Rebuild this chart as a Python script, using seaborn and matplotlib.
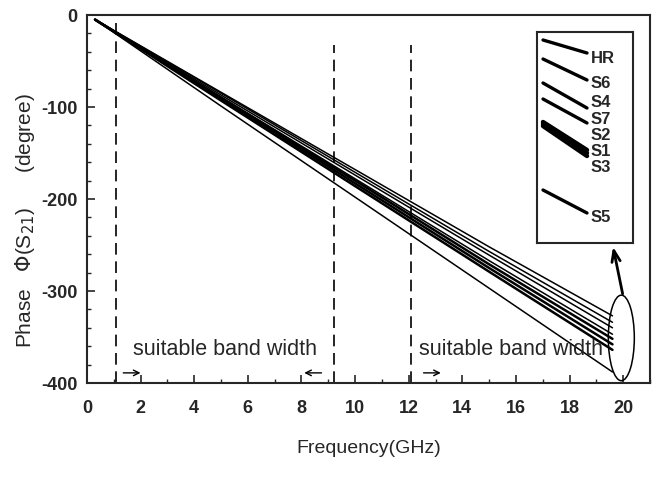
import numpy as np
import pandas as pd
import matplotlib.pyplot as plt
import seaborn as sns
from matplotlib.patches import Ellipse
from matplotlib.ticker import MultipleLocator

sns.set_style("ticks")
plt.rcParams['font.family'] = ['Liberation Sans', 'DejaVu Sans']
plt.rcParams['axes.unicode_minus'] = False

# phase curves (degree) read at a few frequencies (GHz)
freq = [0.3, 5, 10, 15, 19.6]
names = ['HR', 'S6', 'S4', 'S7', 'S2', 'S1', 'S3', 'S5']
phase_HR = [-5, -84, -168, -252, -327]
phase_S6 = [-5, -85, -171, -257, -334]
phase_S4 = [-5, -87, -174, -261, -340]
phase_S7 = [-5, -89, -178, -267, -347]
phase_S2 = [-5, -90, -180, -271, -352]
phase_S1 = [-5, -91, -183, -275, -358]
phase_S3 = [-5, -93, -186, -279, -364]
phase_S5 = [-5, -99, -198, -297, -388]
phases = [phase_HR, phase_S6, phase_S4, phase_S7, phase_S2, phase_S1, phase_S3, phase_S5]
widths = [1.1, 1.1, 1.1, 1.1, 1.8, 1.8, 1.8, 1.1]

# band limits (GHz)
band_edges = [1.1, 9.2, 12.1]
band_tops = [-5, -33, -33]

# inset (zoomed ends), inset units
inset_x = [6, 50]
inset_start = [-8, -27, -51, -67, -90, -92, -94, -158]
inset_end = [-21, -48, -76, -91, -118, -121, -124, -181]
inset_label_y = [-26, -51, -70, -87, -103, -119, -135, -186]
inset_widths = [2.4, 2.4, 2.4, 2.4, 3.2, 3.2, 3.2, 2.4]

df = pd.concat([pd.DataFrame({'freq': freq, 'phase': p, 'name': n})
                for n, p in zip(names, phases)])

fig = plt.figure(figsize=(6.57, 4.87), dpi=100)
ax = fig.add_axes([87/657, 1-383/487, 563/657, 368/487])

for n, w in zip(names, widths):
    sns.lineplot(data=df[df['name'] == n], x='freq', y='phase', color='black',
                 lw=w, ax=ax, legend=False)

ax.vlines(band_edges, -400, band_tops, colors='black', linestyles=(0, (7, 4)), lw=1.2)

ax.set_xlim(0, 21)
ax.set_ylim(-400, 0)
ax.xaxis.set_major_locator(MultipleLocator(2))
ax.xaxis.set_minor_locator(MultipleLocator(1))
ax.yaxis.set_major_locator(MultipleLocator(100))
ax.yaxis.set_minor_locator(MultipleLocator(20))
ax.tick_params(which='both', direction='in', top=False, right=False)
ax.tick_params(which='major', length=6, width=1.2, labelsize=13)
ax.tick_params(which='minor', length=3, width=1)
ax.tick_params(axis='x', which='major', pad=12)
ax.tick_params(axis='y', which='major', pad=7)
for lab in ax.get_xticklabels() + ax.get_yticklabels():
    lab.set_fontweight('bold')
for s in ax.spines.values():
    s.set_linewidth(1.5)

ax.set_xlabel('Frequency(GHz)', fontsize=14, labelpad=17)
ax.set_ylabel(r'Phase   $\Phi$(S$_{21}$)      (degree)', fontsize=15)
ax.yaxis.set_label_coords(-0.088, 0.44)

ax.text(1.72, -364, 'suitable band width', fontsize=15.5, va='center')
ax.text(12.4, -364, 'suitable band width', fontsize=15.5, va='center')
ax.annotate('', xy=(2.1, -389), xytext=(1.25, -389),
            arrowprops=dict(arrowstyle='->', lw=1, color='black'))
ax.annotate('', xy=(8.0, -389), xytext=(8.85, -389),
            arrowprops=dict(arrowstyle='->', lw=1, color='black'))
ax.annotate('', xy=(13.3, -389), xytext=(12.45, -389),
            arrowprops=dict(arrowstyle='->', lw=1, color='black'))

ax.add_patch(Ellipse((19.93, -351), 0.97, 93, fill=False, lw=1.1, color='black'))
ax.annotate('', xy=(19.6, -249), xytext=(20.0, -306),
            arrowprops=dict(arrowstyle='->,head_length=0.8,head_width=0.3',
                            lw=2, color='black'))

# inset with the curve ends
ins = fig.add_axes([537/657, 1-243/487, 96/657, 211/487])
for n, a, b, ly, w in zip(names, inset_start, inset_end, inset_label_y, inset_widths):
    sns.lineplot(x=inset_x, y=[a, b], color='black', lw=w, ax=ins)
    ins.text(54, ly, n, fontsize=12, fontweight='bold', va='center')
ins.set_xlim(0, 96)
ins.set_ylim(-211, 0)
ins.set_xticks([])
ins.set_yticks([])
ins.set_xlabel('')
ins.set_ylabel('')
for s in ins.spines.values():
    s.set_linewidth(1.5)

fig.savefig('out.png', dpi=100)
